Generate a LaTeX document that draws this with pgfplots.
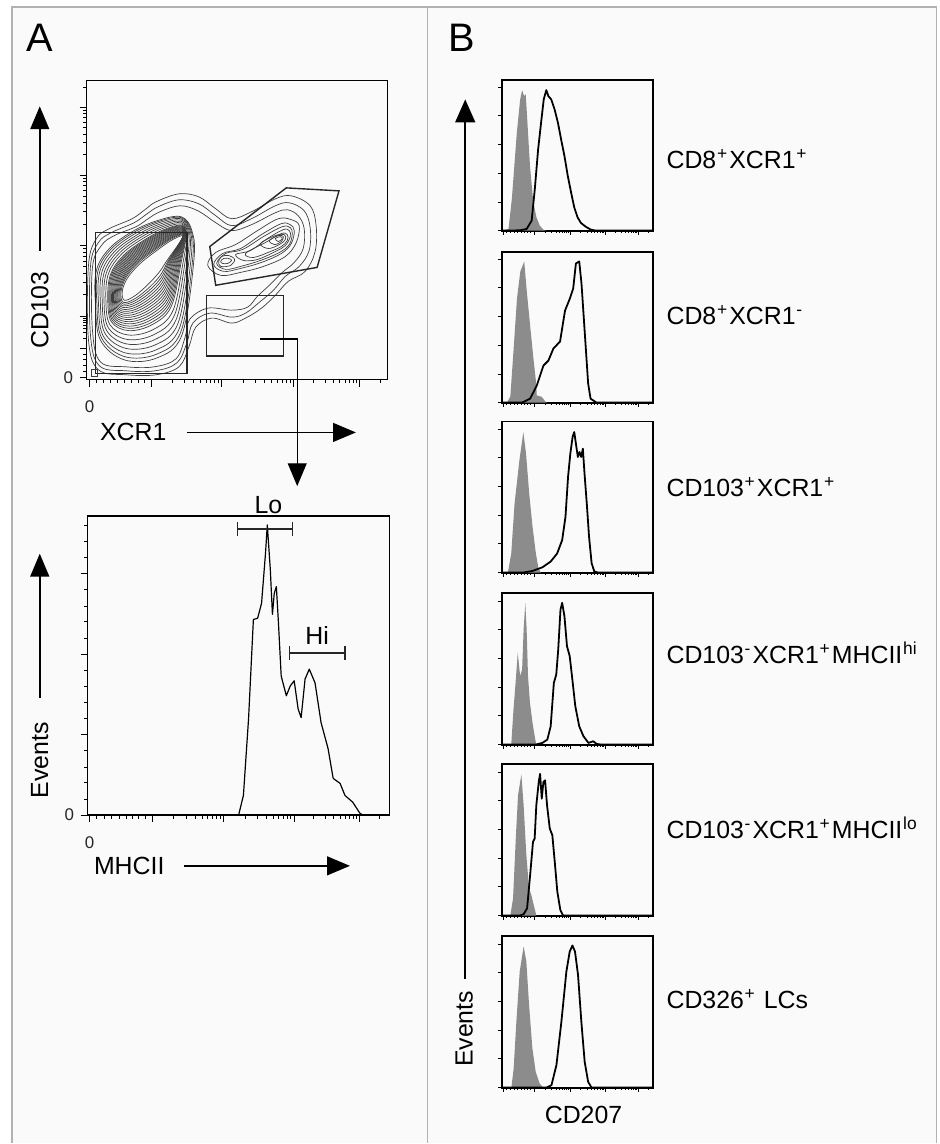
\documentclass[border=0pt]{standalone}
\usepackage{fontspec}
\setmainfont{Liberation Sans}
\usepackage{pgfplots}
\pgfplotsset{compat=1.18}
\usetikzlibrary{arrows.meta}

\definecolor{histgray}{RGB}{140,140,140}
\definecolor{panelbg}{RGB}{250,250,250}
\definecolor{framegray}{RGB}{178,178,178}
\definecolor{contourc}{RGB}{62,62,62}

\newcommand\lab{\fontsize{25}{25}\selectfont}
\newcommand\tkl{\fontsize{17}{17}\selectfont}
\newcommand\sups[1]{\kern0.8pt\textsuperscript{#1}\kern1.6pt}

\tikzset{gate/.style={black!85, line width=1.4pt}}
\pgfplotsset{
  facs/.style={scale only axis, anchor=north west, tick align=outside, tick pos=left,
    every tick/.style={black, line width=0.8pt}, axis line style={line width=1.5pt}},
  cl/.style={draw=contourc, line width=0.7pt, smooth cycle, tension=0.6, no marks},
  bhist/.style={facs, width=152pt, height=152pt, xmin=0, xmax=100, ymin=0, ymax=100,
    axis line style={line width=2pt}, major tick length=4pt, minor tick length=2pt,
    xtick={0.7,21.4,45.1,68.4,90.1},
    minor xtick={3,5.5,8,10.5,13,15,17,19,28.5,32.7,35.7,38,39.8,41.4,42.8,44,52.1,56.2,59.1,61.4,63.2,64.8,66.1,67.3,74.9,78.8,81.5,83.6,85.3,86.7,88,89.1,96.6},
    ytick={0,19,38,57,76,95}, xticklabels={}, yticklabels={}},
  grayfill/.style={fill=histgray, draw=none},
  blackline/.style={black, line width=1.8pt, line join=round},
}

\begin{document}
\begin{tikzpicture}
\begin{scope}[x=1pt,y=-1pt]
  \useasboundingbox (0,0) rectangle (945,1144);
  \fill[white] (0,0) rectangle (945,1144);
  \fill[panelbg] (12,7) rectangle (942,1150);
\end{scope}

% ---------- A: CD103 vs XCR1 contour plot ----------
\begin{axis}[facs, at={(87pt,-81pt)}, width=303pt, height=301pt,
    xmin=0, xmax=303, ymin=0, ymax=301,
    major tick length=7pt, minor tick length=3.5pt,
    xtick={3,65,136,208,275}, xticklabels={0,,,,},
    minor xtick={10,17,24,31,38,45,52,58,86.4,98.9,107.7,114.6,120.2,125,129.1,132.7,157.7,170.3,179.3,186.3,192,196.8,201,204.7,228.2,240,248.3,254.8,260.1,264.6,268.5,271.9,295.2},
    ytick={2,32,64,135,206,274}, yticklabels={0,,,,,},
    minor ytick={8,14,20,26,42,48,52,55,58,60,62,85.4,97.9,106.7,113.6,119.2,124,128.1,131.7,156.4,168.9,177.7,184.6,190.2,195,199.1,202.7,226.5,238.4,246.9,253.5,258.9,263.5,267.5,271,294.5},
    tick label style={font=\tkl, text=black!85},
    xticklabel style={yshift=-11pt}, yticklabel style={xshift=-3pt}]
% outer envelopes (both populations)
\addplot[cl] coordinates {(12,10) (40,5) (70,5) (93,13) (103,33) (110,53) (126,62) (146,57) (160,62) (176,72) (190,85) (203,99) (220,109) (230,129) (231,155) (225,175) (206,185) (190,182) (166,169) (146,162) (130,172) (113,184) (93,187) (70,179) (60,172) (46,162) (23,152) (10,142) (2,115) (2,40)};
\addplot[cl] coordinates {(13,14) (40,9) (69,9) (91,17) (101,37) (107,57) (124,67) (146,63) (160,67) (174,78) (188,90) (200,104) (214,114) (224,130) (225,153) (219,170) (204,178) (190,175) (166,162) (146,155) (130,165) (113,177) (93,181) (72,174) (61,167) (48,158) (25,148) (12,138) (4,114) (4,45)};
\addplot[cl] coordinates {(14,18) (40,13) (68,13) (90,21) (99,42) (104,61) (122,72) (146,70) (162,73) (172,84) (185,96) (197,108) (209,118) (218,132) (219,152) (213,165) (202,171) (190,168) (166,156) (146,150) (130,158) (112,170) (94,175) (74,169) (62,162) (50,154) (28,145) (15,135) (6,113) (6,50)};
% main population
\addplot[cl] coordinates {(108,120) (106,150) (95,164) (71,160) (46,149) (23,132) (10,110) (9,77) (14,40) (38,20) (71,22) (96,45)};
\addplot[cl] coordinates {(106.7,120) (105.4,149.4) (95.1,163.1) (71.7,159) (47.1,148) (24.5,131.2) (11.6,109.6) (10.4,77.6) (15.2,42) (38.5,23.2) (70.5,25.7) (94.9,48.2)};
\addplot[cl] coordinates {(105,120) (104.6,148.6) (95.2,161.9) (72.5,157.8) (48.4,146.7) (26.3,130.2) (13.4,109.1) (12,78.3) (16.6,44.4) (39.1,27) (69.9,30) (93.5,51.9)};
\addplot[cl] coordinates {(103.1,120) (103.7,147.7) (95.4,160.6) (73.5,156.4) (50,145.2) (28.4,129.1) (15.6,108.6) (13.9,79.2) (18.3,47.2) (39.8,31.5) (69.2,35.1) (91.9,56.3)};
\addplot[cl] coordinates {(101.3,120) (102.8,146.8) (95.5,159.3) (74.5,155) (51.5,143.8) (30.5,128) (17.8,108) (15.8,80) (20,50) (40.5,36) (68.5,40.3) (90.3,60.8)};
\addplot[cl] coordinates {(99.4,120) (101.8,145.8) (95.6,157.9) (75.5,153.6) (53,142.3) (32.6,126.9) (19.9,107.4) (17.6,80.8) (21.7,52.8) (41.2,40.5) (67.8,45.4) (88.6,65.2)};
\addplot[cl] coordinates {(97.5,120) (100.9,144.9) (95.8,156.6) (76.5,152.2) (54.6,140.8) (34.7,125.8) (22.1,106.9) (19.5,81.7) (23.4,55.6) (41.9,45) (67.1,50.5) (87,69.6)};
\addplot[cl] coordinates {(95.6,120) (100,144) (95.9,155.3) (77.4,150.8) (56.1,139.3) (36.8,124.6) (24.3,106.3) (21.4,82.5) (25,58.4) (42.6,49.4) (66.4,55.6) (85.4,74)};
\addplot[cl] coordinates {(94.6,120) (99.6,143.6) (96,154.6) (77.9,150.1) (56.9,138.6) (37.9,124.1) (25.3,106) (22.4,82.9) (25.9,59.8) (42.9,51.7) (66.1,58.1) (84.6,76.2)};
\addplot[cl] coordinates {(93.7,120) (99.1,143.1) (96.1,153.9) (78.4,149.4) (57.7,137.9) (38.9,123.5) (26.4,105.8) (23.3,83.4) (26.7,61.2) (43.3,53.9) (65.7,60.7) (83.8,78.4)};
\addplot[cl] coordinates {(92.7,120) (98.7,142.7) (96.1,153.3) (78.9,148.7) (58.4,137.1) (40,123) (27.5,105.5) (24.3,83.8) (27.6,62.6) (43.7,56.2) (65.4,63.2) (83,80.6)};
\addplot[cl] coordinates {(91.8,120) (98.2,142.2) (96.2,152.6) (79.4,148) (59.2,136.4) (41,122.4) (28.6,105.2) (25.2,84.2) (28.4,64) (44,58.4) (65,65.8) (82.2,82.8)};
\addplot[cl] coordinates {(90.9,120) (97.7,141.7) (96.3,151.9) (79.9,147.3) (60,135.7) (42.1,121.8) (29.7,104.9) (26.1,84.6) (29.2,65.4) (44.4,60.6) (64.7,68.4) (81.4,85)};
\addplot[cl] coordinates {(89.9,120) (97.3,141.3) (96.3,151.3) (80.4,146.6) (60.7,134.9) (43.1,121.3) (30.8,104.6) (27.1,85) (30.1,66.8) (44.7,62.9) (64.3,70.9) (80.6,87.2)};
\addplot[cl] coordinates {(89,120) (96.8,140.8) (96.4,150.6) (80.9,145.9) (61.5,134.2) (44.2,120.7) (31.9,104.4) (28,85.5) (30.9,68.2) (45,65.1) (64,73.5) (79.8,89.4)};
\addplot[cl] coordinates {(88,120) (96.4,140.4) (96.5,149.9) (81.4,145.2) (62.3,133.5) (45.2,120.2) (32.9,104.1) (29,85.9) (31.8,69.6) (45.4,67.4) (63.6,76) (79,91.6)};
\addplot[cl] coordinates {(87.1,120) (95.9,139.9) (96.6,149.3) (81.9,144.5) (63.1,132.7) (46.3,119.6) (34,103.8) (29.9,86.3) (32.6,71) (45.8,69.6) (63.3,78.6) (78.2,93.8)};
\addplot[cl] coordinates {(86.1,120) (95.5,139.5) (96.6,148.6) (82.3,143.8) (63.8,132) (47.3,119) (35.1,103.5) (30.9,86.7) (33.4,72.4) (46.1,71.8) (62.9,81.1) (77.4,96)};
\addplot[cl] coordinates {(85.2,120) (95,139) (96.7,147.9) (82.8,143.1) (64.6,131.3) (48.4,118.5) (36.2,103.2) (31.8,87.1) (34.3,73.8) (46.5,74.1) (62.6,83.7) (76.6,98.2)};
\addplot[cl] coordinates {(84.2,120) (94.6,138.6) (96.8,147.3) (83.3,142.4) (65.4,130.5) (49.4,117.9) (37.3,103) (32.8,87.6) (35.1,75.2) (46.8,76.3) (62.2,86.2) (75.8,100.4)};
\addplot[cl] coordinates {(83.3,120) (94.1,138.1) (96.8,146.6) (83.8,141.7) (66.1,129.8) (50.4,117.4) (38.4,102.7) (33.7,88) (36,76.6) (47.2,78.6) (61.9,88.8) (75,102.6)};
\addplot[cl] coordinates {(82.4,120) (93.7,137.7) (96.9,146) (84.3,141) (66.9,129) (51.5,116.8) (39.5,102.4) (34.7,88.4) (36.8,78) (47.5,80.8) (61.5,91.4) (74.2,104.9)};
\addplot[cl] coordinates {(81,120) (93,137) (97,145) (85,140) (68,128) (53,116) (41,102) (36,89) (38,80) (48,84) (61,95) (73,108)};
% second population
\addplot[cl] coordinates {(122,115) (130,128) (150,136) (172,150) (193,162) (206,161) (214,155) (211,138) (200,124) (178,114) (155,108) (135,105)};
\addplot[cl] coordinates {(128,116) (137,127) (155,132) (176,146) (196,157) (205,156) (209,150) (206,137) (196,127) (176,118) (155,112) (138,109)};
\addplot[cl] coordinates {(131,117) (140,127) (157,131) (178,144) (197,154) (205,153) (207,147) (204,136) (194,128) (175,120) (155,114) (140,111)};
\addplot[cl] coordinates {(150,126) (165,130) (182,142) (198,151) (204,150) (205,144) (200,135) (190,129) (172,121) (158,120)};
\addplot[cl] coordinates {(160,127) (180,138) (196,147) (202,146) (202,140) (196,134) (185,129) (168,123)};
\addplot[cl] coordinates {(175,137) (190,145) (199,146) (200,141) (194,136) (183,132)};
\addplot[cl] coordinates {(184,140) (193,145) (198,144) (196,139) (189,136)};
\addplot[cl] coordinates {(190,142) (195,144) (197,142) (193,139)};
\addplot[cl] coordinates {(133,119) (136,124) (143,125) (149,121) (145,115) (135,114)};
\addplot[cl] coordinates {(135,119) (138,122) (143,122) (146,120) (142,117) (137,117)};
% gates
\draw[gate] (axis cs:9,6) rectangle (axis cs:101,148);
\draw[gate] (axis cs:124,134) -- (axis cs:201,193) -- (axis cs:254,190) -- (axis cs:232,113) -- (axis cs:130,95) -- cycle;
\draw[gate] (axis cs:121,24) rectangle (axis cs:198,85);
\draw[contourc, line width=0.6pt] (axis cs:5,3) rectangle (axis cs:11,11);
\end{axis}

% ---------- A: MHCII histogram ----------
\begin{axis}[facs, at={(88pt,-519pt)}, width=304pt, height=301pt,
    xmin=0, xmax=100, ymin=0, ymax=100,
    major tick length=7pt, minor tick length=3.5pt,
    xtick={0.7,21.4,45.1,68.4,90.1}, xticklabels={0,,,,},
    minor xtick={3,5.5,8,10.5,13,15,17,19,28.5,32.7,35.7,38,39.8,41.4,42.8,44,52.1,56.2,59.1,61.4,63.2,64.8,66.1,67.3,74.9,78.8,81.5,83.6,85.3,86.7,88,89.1,96.6},
    ytick={0,26.9,53.8,80.7}, yticklabels={0,,,},
    minor ytick={5.4,10.8,16.1,21.5,32.3,37.7,43,48.4,59.2,64.6,69.9,75.3,86.1,91.5,96.8},
    tick label style={font=\tkl, text=black!85},
    xticklabel style={yshift=-11pt}, yticklabel style={xshift=-3pt}]
\addplot[black, line width=1.2pt, line join=round] coordinates {
  (0,0) (50.0,0) (51.6,6.6) (53.3,32.2) (54.9,65.4) (56.3,65.8) (57.6,70.8) (58.9,87.4) (59.5,97.0)
  (60.5,82.1) (61.2,67.1) (61.8,74.1) (62.5,76.4) (63.2,64.1) (64.1,46.5) (65.8,39.9) (67.1,43.2)
  (68.4,44.9) (69.7,35.5) (70.7,32.6) (72.0,45.5) (73.4,48.8) (75.3,44.2) (77.3,30.9) (79.6,22.3)
  (81.3,12.3) (83.6,10.6) (85.2,6.6) (87.8,4.3) (90.1,0.7) (91.1,0) (100,0)};
\end{axis}

% ---------- B: CD207 histograms ----------
\begin{axis}[bhist, at={(505pt,-80pt)}]
\addplot[grayfill] coordinates {(1.1,0) (4.3,1.1) (6.5,20.9) (9.8,64.8) (12.0,86.8) (13.3,93.0) (14.6,89.0) (15.7,90.1) (16.7,73.6) (18.5,42.9) (20.7,18.7) (22.8,8.8) (25.0,3.3) (27.6,0.4) (29.3,0)} \closedcycle;
\addplot[blackline] coordinates {(0,0) (12.0,0.2) (16.3,1.1) (19.6,6.6) (21.7,27.5) (23.9,53.8) (26.1,73.6) (27.6,86.8) (29.3,93.0) (30.7,89.0) (32.6,86.8) (34.8,80.2) (37.0,71.4) (39.1,60.4) (41.3,49.5) (43.5,36.3) (45.7,25.3) (47.8,15.4) (50.0,8.8) (52.2,5.1) (55.4,2.6) (58.7,0.7) (62.0,0) (100,0)};
\end{axis}
\begin{axis}[bhist, at={(505pt,-253pt)}]
\addplot[grayfill] coordinates {(3.3,0) (5.5,4) (7.7,35.8) (9.9,68.9) (12.1,86.8) (14.7,93.4) (16.4,73.5) (18.6,51.0) (20.8,29.1) (22.6,12.6) (23.0,4.8) (26.3,3.8) (28.5,0.9) (29.6,0)} \closedcycle;
\addplot[blackline] coordinates {(0,0) (13.2,0) (18.6,2.6) (23.0,11.3) (27.4,24.5) (30.7,27.8) (34.0,35.8) (38.4,40.4) (41.7,60.9) (44.9,68.9) (47.1,75.5) (48.9,92.1) (51.1,93.4) (52.6,78.8) (54.8,45.7) (57.0,12.6) (58.6,2.6) (62.5,0) (100,0)};
\end{axis}
\begin{axis}[bhist, at={(505pt,-424pt)}]
\addplot[grayfill] coordinates {(3.9,0) (6.1,12.7) (8.3,45.7) (11.5,74.3) (14.1,93.0) (15.9,78.7) (18.0,52.3) (20.2,30.3) (22.4,12.7) (24.1,2.9) (25.7,0)} \closedcycle;
\addplot[blackline] coordinates {(0,0) (13.7,0) (20.2,1.1) (26.7,3.5) (32.2,7.3) (36.5,12.7) (39.8,21.5) (42.0,36.9) (43.7,63.3) (45.2,78.7) (46.7,89.7) (47.8,93.0) (48.9,85.3) (50.2,76.5) (51.3,79.8) (52.4,76.5) (53.5,82.0) (54.6,65.5) (56.1,45.7) (57.6,23.7) (59.3,6.2) (61.1,0.7) (63.7,0) (100,0)};
\end{axis}
\begin{axis}[bhist, at={(505pt,-597pt)}]
\addplot[grayfill] coordinates {(6.1,0) (7.6,23.2) (9.3,45.3) (10.4,60.7) (12.0,45.3) (13.3,49.7) (14.3,76.2) (15.4,93.8) (16.3,76.2) (17.2,45.3) (18.5,27.6) (20.2,14.3) (22.0,3.3) (22.8,0)} \closedcycle;
\addplot[blackline] coordinates {(0,0) (22.4,0) (26.7,1.1) (30.0,3.3) (32.2,12.1) (34.3,40.8) (35.9,46.4) (37.2,62.9) (38.7,89.4) (39.8,93.8) (41.3,85.0) (43.0,65.1) (44.8,58.5) (46.3,45.3) (48.5,25.4) (51.1,12.1) (53.9,5.5) (57.2,1.1) (60.4,2.2) (62.6,0.4) (65.9,0) (100,0)};
\end{axis}
\begin{axis}[bhist, at={(505pt,-769pt)}]
\addplot[grayfill] coordinates {(5.5,0) (7.3,11.4) (9.1,51.0) (10.6,79.6) (12.8,93.4) (14.3,73.0) (16.1,40.0) (17.9,18.0) (19.4,13.6) (21.0,7.0) (22.7,0)} \closedcycle;
\addplot[blackline] coordinates {(0,0) (11.7,0) (14.3,0.9) (16.6,4.8) (18.8,29.0) (20.5,48.8) (21.6,51.0) (22.7,73.0) (24.3,88.4) (25.2,93.8) (26.3,77.4) (27.4,88.4) (28.5,89.5) (29.8,73.0) (31.6,57.6) (33.3,53.2) (34.9,35.6) (36.6,15.8) (38.6,3.7) (40.4,0) (100,0)};
\end{axis}
\begin{axis}[bhist, at={(505pt,-942pt)}]
\addplot[grayfill] coordinates {(6.2,0) (7.7,12.6) (9.5,43.6) (11.7,76.8) (14.3,93.4) (16.1,83.4) (17.9,54.6) (20.1,25.9) (22.3,10.4) (24.9,2.7) (27.2,0)} \closedcycle;
\addplot[blackline] coordinates {(0,0) (29.4,0) (32.7,1.5) (36.0,14.8) (39.3,43.6) (42.6,76.8) (44.8,90.0) (46.6,94.0) (48.3,90.0) (50.3,74.6) (52.5,43.6) (54.7,17.0) (57.0,3.8) (59.2,0) (100,0)};
\end{axis}

% ---------- frame, labels and arrows ----------
\begin{scope}[x=1pt,y=-1pt]
  \draw[framegray, line width=1.6pt] (12,1150) -- (12,7) -- (942,7) -- (942,1150);
  \draw[framegray, line width=1.6pt] (430,7) -- (430,1150);

  \node[font=\fontsize{40}{40}\selectfont] at (40,38) {A};
  \node[font=\fontsize{40}{40}\selectfont] at (464,38) {B};

  \tikzset{axarrow/.style={black, line width=1.6pt, -{Triangle[length=23pt,width=19pt]}}}
  \draw[axarrow] (40,252) -- (40,107);
  \node[font=\lab, rotate=90] at (40,312) {CD103};
  \draw[axarrow] (188,435) -- (358,435);
  \node[font=\lab] at (134,435) {XCR1};
  \draw[axarrow, line width=1.4pt] (262,341) -- (299,341) -- (299,489);

  \draw[axarrow] (40,702) -- (40,557);
  \node[font=\lab, rotate=90] at (40,765) {Events};
  \draw[axarrow] (185,871) -- (352,871);
  \node[font=\lab] at (130,871) {MHCII};

  \draw[black!85, line width=1.4pt] (239,532) -- (294,532) (239,525) -- (239,539) (294,525) -- (294,539);
  \node[font=\lab] at (270,508) {Lo};
  \draw[black!85, line width=1.4pt] (291,657) -- (347,657) (291,650) -- (291,664) (347,650) -- (347,664);
  \node[font=\lab] at (319,639) {Hi};

  \draw[black, line width=1.5pt, -{Triangle[length=23pt,width=20pt]}] (468,985) -- (468,100);
  \node[font=\lab, rotate=90] at (467,1035) {Events};
  \node[font=\lab] at (587,1122) {CD207};

  \node[font=\lab, anchor=west] at (667,160) {CD8\sups{+}XCR1\sups{+}};
  \node[font=\lab, anchor=west] at (667,317) {CD8\sups{+}XCR1\sups{-}};
  \node[font=\lab, anchor=west] at (667,490) {CD103\sups{+}XCR1\sups{+}};
  \node[font=\lab, anchor=west] at (667,657) {CD103\sups{-}XCR1\sups{+}MHCII\sups{hi}};
  \node[font=\lab, anchor=west] at (667,833) {CD103\sups{-}XCR1\sups{+}MHCII\sups{lo}};
  \node[font=\lab, anchor=west] at (667,1005) {CD326\sups{+}\ LCs};
\end{scope}
\end{tikzpicture}
\end{document}
